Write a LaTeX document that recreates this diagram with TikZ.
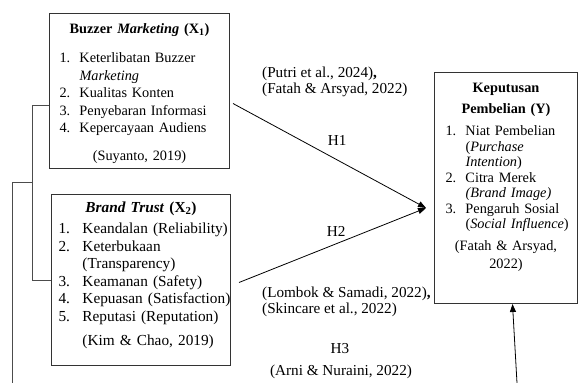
\documentclass[tikz,border=0pt]{standalone}
\usepackage{fontspec}
\setmainfont{Liberation Serif}
\usetikzlibrary{arrows.meta,positioning}
\setlength{\parindent}{0pt}
\newlength{\itemind}
\newcommand{\vitem}[2]{\par\noindent\hangindent=\itemind\hangafter=1\makebox[\itemind][l]{#1}#2}
\tikzset{
  varbox/.style={draw=black!80, line width=1pt, inner xsep=0pt, inner ysep=0pt, font=\fontsize{14.3}{17.5}\selectfont},
  citetext/.style={align=left, inner sep=0pt, font=\fontsize{15.2}{16}\selectfont},
  hyplabel/.style={font=\fontsize{15.2}{16}\selectfont},
  hyparrow/.style={-{Triangle[length=8pt,width=6pt]}, line width=0.8pt},
  joinline/.style={draw=black!70, line width=0.8pt},
}

\begin{document}
\begin{tikzpicture}[x=1pt, y=-1pt]
    \useasboundingbox (0,0) rectangle (579,383);
    % variable boxes
    \node[varbox, text width=180pt, text height=20pt, text depth=135pt, anchor=north west] (x1) at (49,13) {%
      {\centering\bfseries Buzzer \textit{Marketing} (X\textsubscript{1})\par}%
      \vspace{11.5pt}%
      \raggedright\leftskip=10pt\setlength{\itemind}{20pt}%
      \vitem{1.}{Keterlibatan Buzzer\newline\textit{Marketing}}%
      \vitem{2.}{Kualitas Konten}%
      \vitem{3.}{Penyebaran Informasi}%
      \vitem{4.}{Kepercayaan Audiens}\par
      \vspace{10.5pt}%
      {\centering (Suyanto, 2019)\par}};
    \node[varbox, text width=179pt, text height=18pt, text depth=153pt, anchor=north west, font=\fontsize{15.3}{17.6}\selectfont] (x2) at (51,194) {%
      {\centering\bfseries\textit{Brand Trust} (X\textsubscript{2})\par}%
      \vspace{3.4pt}%
      \raggedright\leftskip=7pt\setlength{\itemind}{24pt}%
      \vitem{1.}{Keandalan (Reliability)}%
      \vitem{2.}{Keterbukaan\newline(Transparency)}%
      \vitem{3.}{Keamanan (Safety)}%
      \vitem{4.}{Kepuasan (Satisfaction)}%
      \vitem{5.}{Reputasi (Reputation)}\par
      \vspace{6.4pt}%
      \leftskip=31pt (Kim \& Chao, 2019)\par};
    \node[varbox, text width=143pt, text height=20pt, text depth=211pt, anchor=north west, font=\fontsize{14.3}{15.5}\selectfont] (y) at (434,72) {%
      {\centering\bfseries\fontsize{14.3}{21}\selectfont Keputusan\\Pembelian (Y)\par}%
      \vspace{6.5pt}%
      \raggedright\leftskip=11pt\setlength{\itemind}{20pt}%
      \vitem{1.}{Niat Pembelian\newline(\textit{Purchase}\newline\textit{Intention})}%
      \vitem{2.}{Citra Merek\newline\textit{(Brand Image)}}%
      \vitem{3.}{Pengaruh Sosial\newline(\textit{Social Influence})}\par
      \vspace{4pt}%
      {\centering\fontsize{14.3}{18}\selectfont (Fatah \& Arsyad,\\2022)\par}};
    % citations
    \node[citetext, anchor=north west] (c1) at (262,67) {(Putri et al., 2024)\textbf{,}\\(Fatah \& Arsyad, 2022)};
    \node[citetext, anchor=north west] (c2) at (262,287) {(Lombok \& Samadi, 2022)\textbf{,}\\(Skincare et al., 2022)};
    \node[citetext, anchor=base] (h3) at (340,353) {H3};
    \node[citetext, anchor=base] (c3) at (341,375) {(Arni \& Nuraini, 2022)};
    % hypotheses
    \coordinate (hub) at ([xshift=-8pt,yshift=-20pt]y.west);
    \draw[hyparrow] ([xshift=3pt,yshift=-12.5pt]x1.east) -- node[hyplabel, pos=0.54, above=11pt] (h1) {H1} (hub);
    \draw[hyparrow] ([xshift=8pt,yshift=-2.5pt]x2.east) -- node[hyplabel, pos=0.52, above=3.5pt] (h2) {H2} (hub);
    \draw[joinline] ([yshift=-14.5pt]x1.west) -- ++(-17,0) |- (x2.west);
    \coordinate (brkmid) at (32,182);
    \coordinate (h3src) at (12,383);
    \coordinate (h3dst) at (517,383);
    \draw[joinline] (brkmid) -| (h3src);
    \draw[hyparrow] (h3dst) -- ([xshift=6.5pt]y.south);
\end{tikzpicture}
\end{document}
